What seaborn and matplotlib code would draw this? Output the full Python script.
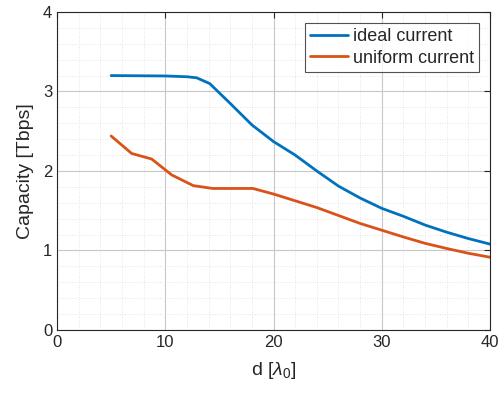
import matplotlib
matplotlib.use("Agg")
import matplotlib.pyplot as plt
import seaborn as sns
import pandas as pd
from matplotlib.ticker import MultipleLocator

d_ideal = [5.0, 10.0, 12.0, 12.9, 14.1, 16.0, 18.0, 20.0, 22.0, 24.0, 26.0, 28.0, 30.0, 32.0, 34.0, 36.0, 38.0, 40.0]
cap_ideal = [3.20, 3.195, 3.185, 3.172, 3.10, 2.85, 2.58, 2.37, 2.20, 2.00, 1.81, 1.66, 1.53, 1.43, 1.32, 1.23, 1.15, 1.08]
d_uniform = [5.0, 6.9, 8.75, 10.6, 12.6, 14.4, 18.1, 20.0, 22.0, 24.0, 26.0, 28.0, 30.0, 32.0, 34.0, 36.0, 38.0, 40.0]
cap_uniform = [2.44, 2.22, 2.15, 1.95, 1.815, 1.78, 1.78, 1.71, 1.625, 1.54, 1.44, 1.34, 1.255, 1.17, 1.09, 1.025, 0.965, 0.915]
labels = ["ideal current", "uniform current"]
colors = ["#0072BD", "#D95319"]

df = pd.concat([
    pd.DataFrame({"d": d_ideal, "cap": cap_ideal, "series": labels[0]}),
    pd.DataFrame({"d": d_uniform, "cap": cap_uniform, "series": labels[1]}),
])

sns.set_style("white")
plt.rcParams["font.family"] = ["Liberation Sans", "DejaVu Sans"]
plt.rcParams["mathtext.fontset"] = "custom"
plt.rcParams["mathtext.rm"] = "Liberation Sans"
plt.rcParams["mathtext.it"] = "Liberation Sans:italic"

fig = plt.figure(figsize=(5, 3.99), dpi=100)
ax = fig.add_axes([0.114, 0.173, 0.866, 0.797])

sns.lineplot(data=df, x="d", y="cap", hue="series", palette=colors,
             linewidth=2, ax=ax, sort=False, estimator=None)

ax.set_xlim(0, 40)
ax.set_ylim(0, 4)
ax.xaxis.set_major_locator(MultipleLocator(10))
ax.yaxis.set_major_locator(MultipleLocator(1))
ax.xaxis.set_minor_locator(MultipleLocator(2))
ax.yaxis.set_minor_locator(MultipleLocator(0.2))
ax.grid(True, which="major", color="#c8c8c8", linewidth=0.8)
ax.grid(True, which="minor", color="#dcdcdc", linewidth=0.6, linestyle=(0, (1, 2)))
ax.set_axisbelow(True)
for s in ax.spines.values():
    s.set_color("#262626")
    s.set_linewidth(0.8)
ax.tick_params(axis="both", which="major", labelsize=12, colors="#262626",
               direction="in", length=4, top=True, right=True)
ax.tick_params(axis="both", which="minor", length=0)
ax.set_xlabel(r"d [$\lambda_0$]", fontsize=14, color="#262626", labelpad=7)
ax.set_ylabel("Capacity [Tbps]", fontsize=14, color="#262626", labelpad=6)

leg = ax.legend(loc="upper right", fontsize=13, frameon=True, fancybox=False,
                edgecolor="#262626", handlelength=2.1, borderpad=0.3,
                labelspacing=0.25, handletextpad=0.25, borderaxespad=0.6)
leg.get_frame().set_linewidth(0.8)

fig.savefig("out.png", dpi=100)
